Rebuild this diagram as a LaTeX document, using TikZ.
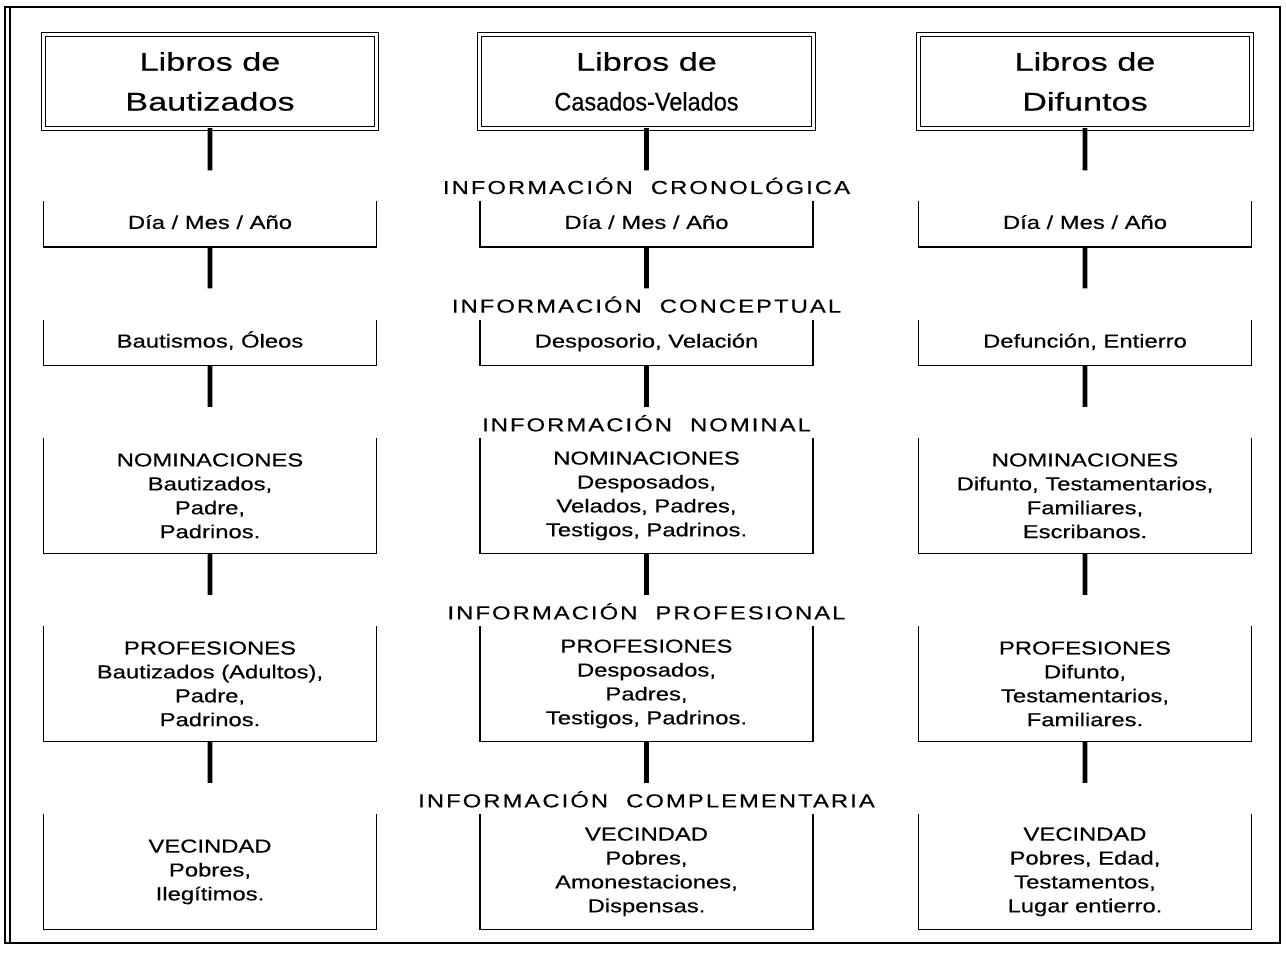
\documentclass[tikz,border=0pt]{standalone}
\usepackage{fontspec}
\setmainfont{Liberation Sans}
\newfontfamily\headfont[FakeStretch=1.34, FakeBold=0.4]{Liberation Sans}
\newfontfamily\headnarrow[FakeStretch=0.92, FakeBold=0.4]{Liberation Sans}
\newfontfamily\bodyfont[FakeStretch=1.27, FakeBold=0.4]{Liberation Sans}
\newfontfamily\infofont[FakeStretch=1.27, FakeBold=0.4, LetterSpace=11]{Liberation Sans}
\usetikzlibrary{positioning, calc}
\tikzset{
	every node/.style = {inner sep = 0pt, outer sep = 0pt},
	head/.style = {rectangle, draw = black, double, double distance = 1.3pt, line width = 0.45pt, minimum width = 5cm, minimum height = 1.4cm, align = center, font = \headfont\fontsize{10.9pt}{17pt}\selectfont},
	entry/.style = {rectangle, minimum width = 5cm, minimum height = 0.69cm, align = center, text height = 6pt, text depth = 1.7pt, font = \bodyfont\fontsize{8pt}{10.2pt}\selectfont},
	bigentry/.style = {entry, minimum height = 1.73cm, text height = , text depth = },
	info/.style = {font = \infofont\fontsize{8pt}{10pt}\selectfont},
	side/.style = {draw = black, line width = 0.6pt},
	link/.style = {draw = black, line width = 2pt},
	frame/.style = {draw = black, line width = 0.9pt}
}

\begin{document}
\begin{tikzpicture}[x = 0.015cm, y = -0.015cm, node distance = 1.09cm]
	\useasboundingbox (0,0) rectangle (1286,956);

	%% frame
	\draw [frame] (5,7) rectangle (1280,943);
	\draw [frame, line width = 0.6pt] (10,7) -- (10,943);

	%% headers
	\node (bau) [head] at (210,81.5) {Libros de\\Bautizados};
	\node (cas) [head] at (646.5,81.5) {Libros de\\{\headnarrow Casados-Velados}};
	\node (dif) [head] at (1085,81.5) {Libros de\\Difuntos};

	%% bautizados
	\node (bau1) [entry, below = of bau] {Día / Mes / Año};
	\node (bau2) [entry, below = of bau1] {Bautismos, Óleos};
	\node (bau3) [bigentry, below = of bau2] {NOMINACIONES\\Bautizados,\\Padre,\\Padrinos.};
	\node (bau4) [bigentry, below = of bau3] {PROFESIONES\\Bautizados (Adultos),\\Padre,\\Padrinos.};
	\node (bau5) [bigentry, below = of bau4] {VECINDAD\\Pobres,\\Ilegítimos.};

	%% casados-velados
	\node (cas1) [entry, below = of cas] {Día / Mes / Año};
	\node (cas2) [entry, below = of cas1] {Desposorio, Velación};
	\node (cas3) [bigentry, below = of cas2] {NOMINACIONES\\Desposados,\\Velados, Padres,\\Testigos, Padrinos.};
	\node (cas4) [bigentry, below = of cas3] {PROFESIONES\\Desposados,\\Padres,\\Testigos, Padrinos.};
	\node (cas5) [bigentry, below = of cas4] {VECINDAD\\Pobres,\\Amonestaciones,\\Dispensas.};

	%% difuntos
	\node (dif1) [entry, below = of dif] {Día / Mes / Año};
	\node (dif2) [entry, below = of dif1] {Defunción, Entierro};
	\node (dif3) [bigentry, below = of dif2] {NOMINACIONES\\Difunto, Testamentarios,\\Familiares,\\Escribanos.};
	\node (dif4) [bigentry, below = of dif3] {PROFESIONES\\Difunto,\\Testamentarios,\\Familiares.};
	\node (dif5) [bigentry, below = of dif4] {VECINDAD\\Pobres, Edad,\\Testamentos,\\Lugar entierro.};

	%% section labels
	\node (cron) [info, above = 0.1cm of cas1] {INFORMACIÓN\hspace{4pt} CRONOLÓGICA};
	\node (conc) [info, above = 0.1cm of cas2] {INFORMACIÓN\hspace{4pt} CONCEPTUAL};
	\node (nomi) [info, above = 0.1cm of cas3] {INFORMACIÓN\hspace{4pt} NOMINAL};
	\node (prof) [info, above = 0.1cm of cas4] {INFORMACIÓN\hspace{4pt} PROFESIONAL};
	\node (comp) [info, above = 0.1cm of cas5] {INFORMACIÓN\hspace{4pt} COMPLEMENTARIA};

	%% open boxes
	\foreach \n in {bau1,bau2,bau3,bau4,bau5,cas1,cas2,cas3,cas4,cas5,dif1,dif2,dif3,dif4,dif5}
		\draw [side] (\n.north west) |- (\n.south) -| (\n.north east);

	%% links
	\foreach \col in {bau,cas,dif} {
		\draw [link] (\col.south) -- ($(\col.south)!0.58!(\col1.north)$);
		\foreach \i [count = \j from 2] in {1,2,3,4}
			\draw [link] (\col\i.south) -- ($(\col\i.south)!0.57!(\col\j.north)$);
	}
\end{tikzpicture}
\end{document}
